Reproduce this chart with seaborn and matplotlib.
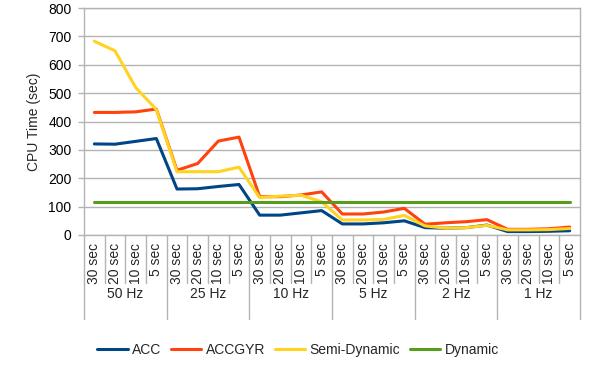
import matplotlib
matplotlib.use("Agg")
import matplotlib.pyplot as plt
import matplotlib.transforms as mtransforms
import pandas as pd
import seaborn as sns

# Data
freqs = ["50 Hz", "25 Hz", "10 Hz", "5 Hz", "2 Hz", "1 Hz"]
windows = ["30 sec", "20 sec", "10 sec", "5 sec"]

acc = [321, 320, 330, 340, 162, 163, 171, 178,
       70, 70, 78, 86, 39, 39, 43, 50,
       26, 24, 26, 35, 12, 12, 13, 15]
accgyr = [432, 432, 434, 444, 228, 252, 331, 345,
          135, 135, 141, 152, 74, 74, 81, 94,
          38, 43, 47, 54, 20, 20, 22, 28]
semi_dynamic = [683, 649, 520, 442, 223, 223, 223, 239,
                132, 137, 140, 117, 53, 53, 55, 69,
                32, 24, 26, 34, 18, 18, 19, 23]
dynamic = [115] * 24

series = {"ACC": acc, "ACCGYR": accgyr,
          "Semi-Dynamic": semi_dynamic, "Dynamic": dynamic}
colors = ["#004586", "#ff420e", "#ffd320", "#579d1c"]

rows = []
for name, vals in series.items():
    for i, v in enumerate(vals):
        rows.append({"pos": i, "value": v, "series": name})
df = pd.DataFrame(rows)

sns.set_theme(style="white")
plt.rcParams["font.family"] = ["Liberation Sans", "DejaVu Sans"]
plt.rcParams["font.size"] = 10

fig = plt.figure(figsize=(5.92, 3.69), dpi=100)
ax = fig.add_axes([84 / 592, 1 - 235 / 369, 496 / 592, 227 / 369])

sns.lineplot(data=df, x="pos", y="value", hue="series", palette=colors,
             hue_order=list(series.keys()), sort=False, linewidth=2.2,
             ax=ax, legend=False, zorder=3)

grid_c = "#b3b3b3"
n = len(acc)
ax.set_xlim(-0.5, n - 0.5)
ax.set_ylim(0, 800)
ax.set_yticks(range(0, 801, 100))
ax.yaxis.grid(True, color=grid_c, linewidth=1)
ax.set_axisbelow(True)
for sp in ax.spines.values():
    sp.set_color(grid_c)
    sp.set_linewidth(1)
ax.tick_params(axis="y", length=4, width=1, color=grid_c, pad=5,
               labelsize=10, labelcolor="black", left=True)
ax.set_xticks([])
ax.set_xlabel("")
ax.set_ylabel("CPU Time (sec)", fontsize=10, labelpad=5)

# hierarchical category axis
trans = mtransforms.blended_transform_factory(ax.transData, ax.transAxes)
h = 227.0
for i in range(n):
    ax.text(i, -8 / h, windows[i % 4], rotation=90, ha="center", va="top",
            fontsize=10, transform=trans)
for b in range(n + 1):
    end = -84 / h if b % 4 == 0 else -48 / h
    ax.plot([b - 0.5, b - 0.5], [0, end], color=grid_c, lw=1,
            transform=trans, clip_on=False)
for g, f in enumerate(freqs):
    ax.text(g * 4 + 1.5, -59 / h, f, ha="center", va="center",
            fontsize=10, transform=trans)

handles = [plt.Line2D([], [], color=c, lw=2.2) for c in colors]
fig.legend(handles, list(series.keys()), loc="center", ncol=4,
           bbox_to_anchor=(298 / 592, 1 - 350 / 369), frameon=False,
           handlelength=2.2, handletextpad=0.3, columnspacing=0.7,
           fontsize=10)

fig.savefig("out.png", dpi=100)
